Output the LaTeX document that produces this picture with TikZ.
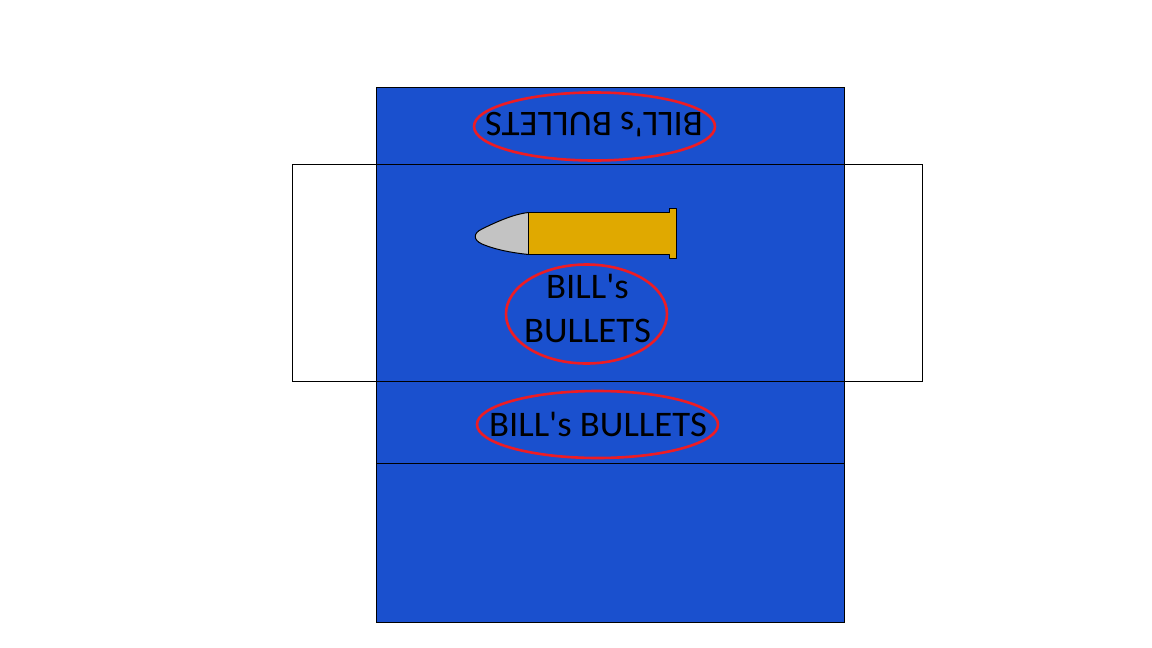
\documentclass[tikz,border=0pt]{standalone}
\usepackage{fontspec}
\newfontfamily\lblfont{Carlito}[FakeStretch=1.02]
\usetikzlibrary{shapes.geometric}
\definecolor{boxblue}{HTML}{1A50CE}
\definecolor{ringred}{HTML}{ED1C24}
\definecolor{brass}{HTML}{E0A900}
\definecolor{lead}{HTML}{C3C3C3}
\tikzset{
 panel/.style={draw=black,line width=1pt},
 ring/.style={draw=ringred,line width=2.6pt},
 label/.style={font=\lblfont\fontsize{36}{44}\selectfont,text=black,align=center,inner sep=0pt},
 part/.style={draw=black,line width=1pt,line join=round}
}
\begin{document}
\begin{tikzpicture}[x=1pt,y=-1pt]
\useasboundingbox (0,0) rectangle (1152,648);
\fill[white] (0,0) rectangle (1152,648);
\draw[panel,fill=white] (292.5,164.5) rectangle (922.5,381.5);
\draw[panel,fill=boxblue] (376.5,87.5) rectangle (844.5,622.5);
\draw[panel] (376.5,164.5) -- (844.5,164.5);
\draw[panel] (376.5,381.5) -- (844.5,381.5);
\draw[panel] (376.5,463.5) -- (844.5,463.5);
\draw[ring] (594.5,126.5) ellipse [x radius=120.5,y radius=34];
\draw[ring] (586.5,314) ellipse [x radius=80.5,y radius=49.5];
\draw[ring] (597.5,424.5) ellipse [x radius=120.5,y radius=33.5];
\node[label,rotate=180] (top) at (594,125) {BILL's BULLETS};
\node[label] (mid) at (587.5,308) {BILL's\\BULLETS};
\node[label] (low) at (598,424) {BILL's BULLETS};
\draw[part,fill=lead] (528.5,212.5) .. controls (514,214) and (496,222) .. (482,229) .. controls (473,233) and (473,240) .. (482,244) .. controls (496,250) and (514,253) .. (528.5,254.5) -- cycle;
\draw[part,fill=brass] (528.5,212.5) -- (669.5,212.5) -- (669.5,208.5) -- (676.5,208.5) -- (676.5,258.5) -- (669.5,258.5) -- (669.5,254.5) -- (528.5,254.5) -- cycle;
\end{tikzpicture}
\end{document}
